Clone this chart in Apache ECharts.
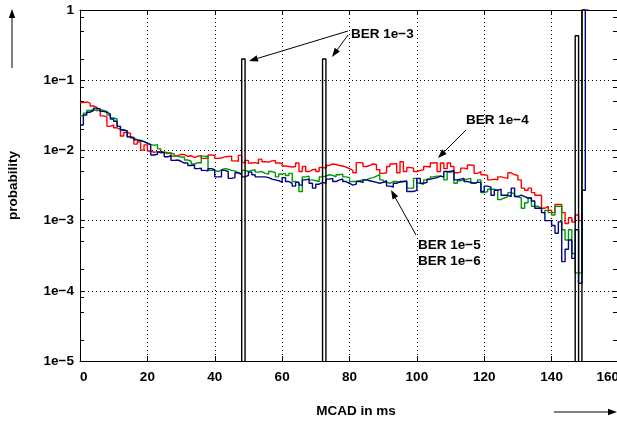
<!DOCTYPE html>
<html>
<head>
<meta charset="utf-8">
<script src="https://cdn.jsdelivr.net/npm/echarts/dist/echarts.min.js"></script>
<style>
html, body { margin: 0; padding: 0; background: #fff; }
#chart { width: 617px; height: 423px; }
</style>
</head>
<body>
<div id="chart"></div>
<script>
// histogram of MCAD, 1 ms bins starting at 0
const binWidth = 1;

// BER 1e-4
const red1e4 = [
  0.048, 0.049, 0.047, 0.043, 0.041, 0.037, 0.031, 0.030, 0.022, 0.023,
  0.021, 0.020, 0.016, 0.018, 0.0175, 0.015, 0.0123, 0.0133, 0.0101, 0.0120,
  0.0098, 0.0094, 0.0096, 0.0092, 0.0094, 0.0090, 0.0093, 0.0083, 0.0084, 0.0088,
  0.0087, 0.0082, 0.0084, 0.0079, 0.0083, 0.0084, 0.0077, 0.0078, 0.0086, 0.0085,
  0.0077, 0.0078, 0.0081, 0.0082, 0.0083, 0.0071, 0.0070, 0.0085, 0.0067, 0.0072,
  0.0066, 0.0067, 0.0065, 0.0075, 0.0069, 0.0068, 0.0071, 0.0072, 0.0066, 0.0065,
  0.0060, 0.0059, 0.0058, 0.0059, 0.0066, 0.0050, 0.0059, 0.0050, 0.0053, 0.0054,
  0.0050, 0.0057, 0.0056, 0.0061, 0.0064, 0.0063, 0.0061, 0.0060, 0.0058, 0.0055,
  0.0052, 0.0048, 0.0067, 0.0066, 0.0059, 0.0061, 0.0064, 0.0063, 0.0053, 0.0047,
  0.0048, 0.0059, 0.0064, 0.0065, 0.0048, 0.0069, 0.0050, 0.0057, 0.0056, 0.0050,
  0.0052, 0.0053, 0.0059, 0.0058, 0.0066, 0.0067, 0.0050, 0.0066, 0.0055, 0.0066,
  0.0059, 0.0048, 0.0049, 0.0056, 0.0054, 0.0062, 0.0061, 0.0047, 0.0050, 0.0045,
  0.0044, 0.0038, 0.0039, 0.0038, 0.0042, 0.0041, 0.0040, 0.0048, 0.0045, 0.0044,
  0.0038, 0.0029, 0.0027, 0.0029, 0.0025, 0.0023, 0.0023, 0.0015, 0.0016, 0.0014,
  0.0013, 0.0017, 0.0017, 0.0013, 0.00091, 0.0011, 0.00095, 0.0012, 0.0010, 1
];

// BER 1e-5
const green1e5 = [
  0.031, 0.034, 0.037, 0.038, 0.037, 0.038, 0.037, 0.036, 0.032, 0.029,
  0.028, 0.022, 0.0195, 0.019, 0.0156, 0.015, 0.0141, 0.014, 0.0133, 0.0128,
  0.0122, 0.0118, 0.0121, 0.0105, 0.0095, 0.0093, 0.0091, 0.0089, 0.0083, 0.0080,
  0.0081, 0.0073, 0.0070, 0.0064, 0.0067, 0.0066, 0.0083, 0.0082, 0.0052, 0.0052,
  0.0050, 0.0053, 0.0055, 0.0054, 0.0052, 0.0051, 0.0048, 0.0047, 0.0052, 0.0050,
  0.0052, 0.0053, 0.0049, 0.0050, 0.0047, 0.0046, 0.0050, 0.0048, 0.0042, 0.0046,
  0.0047, 0.0044, 0.0047, 0.0036, 0.0035, 0.0026, 0.0042, 0.0043, 0.0038, 0.0037,
  0.0036, 0.0042, 0.0043, 0.0045, 0.0044, 0.0042, 0.0045, 0.0046, 0.0042, 0.0041,
  0.0036, 0.0036, 0.0037, 0.0038, 0.0038, 0.0040, 0.0041, 0.0043, 0.0045, 0.0038,
  0.0035, 0.0034, 0.0036, 0.0036, 0.0035, 0.0036, 0.0037, 0.0029, 0.0029, 0.0040,
  0.0034, 0.0033, 0.0038, 0.0039, 0.0042, 0.0043, 0.0043, 0.0042, 0.0038, 0.0049,
  0.0050, 0.0034, 0.0037, 0.0038, 0.0039, 0.0040, 0.0034, 0.0035, 0.0038, 0.0025,
  0.0026, 0.0028, 0.0028, 0.0027, 0.0020, 0.0021, 0.0022, 0.0025, 0.0024, 0.0022,
  0.0021, 0.0015, 0.0018, 0.0021, 0.0016, 0.0016, 0.0015, 0.0013, 0.0014, 0.0013,
  0.0012, 0.0016, 0.0016, 0.00074, 0.00053, 0.00074, 0.00034, 0.00018, 0.00018, 1
];

// BER 1e-6
const blue1e6 = [
  0.023, 0.032, 0.035, 0.037, 0.040, 0.039, 0.036, 0.035, 0.033, 0.028,
  0.026, 0.022, 0.0195, 0.019, 0.0156, 0.0153, 0.0141, 0.0138, 0.0133, 0.0126,
  0.0120, 0.0086, 0.0088, 0.0095, 0.0093, 0.0081, 0.0084, 0.0072, 0.0073, 0.0070,
  0.0066, 0.0066, 0.0061, 0.0062, 0.0055, 0.0056, 0.0052, 0.0051, 0.0055, 0.0053,
  0.0042, 0.0042, 0.0052, 0.0050, 0.0040, 0.0041, 0.0048, 0.0045, 0.0042, 0.0044,
  0.0049, 0.0045, 0.0042, 0.0042, 0.0042, 0.0041, 0.0039, 0.0038, 0.0037, 0.0035,
  0.0041, 0.0036, 0.0034, 0.0031, 0.0035, 0.0032, 0.0038, 0.0039, 0.0034, 0.0029,
  0.0033, 0.0035, 0.0034, 0.0039, 0.0040, 0.0036, 0.0038, 0.0039, 0.0036, 0.0034,
  0.0032, 0.0033, 0.0036, 0.0035, 0.0038, 0.0037, 0.0036, 0.0035, 0.0034, 0.0035,
  0.0037, 0.0031, 0.0030, 0.0034, 0.0036, 0.0036, 0.0036, 0.0026, 0.0026, 0.0027,
  0.0040, 0.0034, 0.0035, 0.0039, 0.0040, 0.0041, 0.0043, 0.0042, 0.0050, 0.0050,
  0.0052, 0.0038, 0.0039, 0.0040, 0.0036, 0.0035, 0.0034, 0.0035, 0.0035, 0.0026,
  0.0031, 0.0030, 0.0023, 0.0027, 0.0028, 0.0023, 0.0023, 0.0022, 0.0029, 0.0022,
  0.0023, 0.0022, 0.0021, 0.0021, 0.0019, 0.0015, 0.0015, 0.0013, 0.0010, 0.0010,
  0.00085, 0.00066, 0.00096, 0.00026, 0.00039, 0.00053, 0.00029, 0.00074, 0.000128, 0.0027,
  1
];

// BER 1e-3: empty everywhere except these bins
const black1e3Bins = [48, 72, 147, 149];
const black1e3Vals = [0.2, 0.2, 0.43, 1];
const emptyBin = 1e-8;   // below the axis, clipped away

// axis ticks
const decades = [-5, -4, -3, -2, -1, 0];
const minorMults = [2, 5, 8];

const FONT = '"Liberation Sans", Arial, Helvetica, sans-serif';

function stepData(vals) {
    const d = vals.map((v, i) => [i * binWidth, v]);
    d.push([vals.length * binWidth, vals[vals.length - 1]]);
    return d;
}

function spikeData(bins, vals) {
    const d = [[0, emptyBin]];
    bins.forEach((b, i) => {
        d.push([b * binWidth, vals[i]]);
        if (i === bins.length - 1) d.push([(b + 1) * binWidth, vals[i]]);
        else d.push([(b + 1) * binWidth, emptyBin]);
    });
    return d;
}

const minorLog = [];
decades.slice(0, -1).forEach(d => minorMults.forEach(m => minorLog.push(d + Math.log10(m))));

const labelStyle = { color: '#000', fontFamily: FONT, fontWeight: 'bold', fontSize: 13.5 };
const blackLine = { color: '#000', width: 1 };
const dotted = { color: '#000', width: 1, type: [1, 3] };

function line(name, data, color) {
    return {
        name: name, type: 'line', step: 'end', data: data,
        symbol: 'none', clip: true, silent: true,
        xAxisIndex: 0, yAxisIndex: 0,
        lineStyle: { color: color, width: 1.4 }
    };
}

function arrow(x1, y1, x2, y2) {
    const head = 9, half = 3.2;
    const dx = x2 - x1, dy = y2 - y1, L = Math.hypot(dx, dy);
    const ux = dx / L, uy = dy / L;
    const bx = x2 - ux * head, by = y2 - uy * head;
    return [
        { type: 'line', silent: true, shape: { x1: x1, y1: y1, x2: bx, y2: by }, style: { stroke: '#000', lineWidth: 1 } },
        { type: 'polygon', silent: true, shape: { points: [[x2, y2], [bx - uy * half, by + ux * half], [bx + uy * half, by - ux * half]] }, style: { fill: '#000' } }
    ];
}

function note(text, x, y) {
    return { type: 'text', silent: true, style: { text: text, x: x, y: y, fill: '#000', font: 'bold 13.5px ' + FONT, align: 'left', verticalAlign: 'middle' } };
}

const option = {
    animation: false,
    backgroundColor: '#fff',
    grid: { left: 80, top: 10, width: 539, height: 351, containLabel: false, outerBoundsMode: 'none' },
    xAxis: [
        {
            type: 'value', position: 'bottom', min: 0, max: 160, interval: 20,
            axisLine: { onZero: false, lineStyle: blackLine },
            axisTick: { inside: true, length: 5, lineStyle: blackLine },
            axisLabel: Object.assign({ margin: 9, alignMinLabel: 'left', alignMaxLabel: 'right' }, labelStyle),
            splitLine: { show: true, lineStyle: dotted },
            name: 'MCAD in ms', nameLocation: 'middle', nameGap: 43,
            nameTextStyle: Object.assign({ padding: [0, 0, 0, 13] }, labelStyle)
        },
        {
            type: 'value', position: 'top', min: 0, max: 160, interval: 20,
            axisLine: { onZero: false, lineStyle: blackLine },
            axisTick: { inside: true, length: 5, lineStyle: blackLine },
            axisLabel: { show: false },
            splitLine: { show: false }
        }
    ],
    yAxis: [
        {
            type: 'log', logBase: 10, min: 1e-5, max: 1, position: 'left',
            axisLine: { onZero: false, lineStyle: blackLine },
            axisTick: { inside: true, length: 5, lineStyle: blackLine },
            axisLabel: Object.assign({
                margin: 6,
                formatter: v => {
                    const e = Math.round(Math.log10(v));
                    return e === 0 ? '1' : '1e\u2212' + (-e);
                }
            }, labelStyle),
            splitLine: { show: true, lineStyle: dotted },
            minorTick: { show: false },
            name: 'probability', nameLocation: 'middle', nameGap: 60, nameRotate: 90,
            nameTextStyle: labelStyle
        },
        {
            // minor ticks of the log axis (in log10 units)
            type: 'value', min: -5, max: 0, position: 'left',
            axisLine: { show: false, onZero: false },
            axisTick: { show: true, inside: true, length: 4, lineStyle: blackLine, customValues: minorLog },
            axisLabel: { show: false },
            splitLine: { show: false }
        },
        {
            type: 'value', min: -5, max: 0, position: 'right',
            axisLine: { show: true, onZero: false, lineStyle: blackLine },
            axisTick: { show: true, inside: true, length: 6, lineStyle: blackLine, customValues: decades.concat(minorLog) },
            axisLabel: { show: false },
            splitLine: { show: false }
        }
    ],
    series: [
        line('BER 1e-4', stepData(red1e4), '#ff0000'),
        line('BER 1e-5', stepData(green1e5), '#009a00'),
        line('BER 1e-6', stepData(blue1e6), '#00008b'),
        line('BER 1e-3', spikeData(black1e3Bins, black1e3Vals), '#000000')
    ],
    graphic: [
        note('BER 1e\u22123', 351, 34),
        note('BER 1e\u22124', 466, 120),
        note('BER 1e\u22125', 418, 245),
        note('BER 1e\u22126', 418, 261)
    ].concat(
        arrow(348, 31, 249, 61),
        arrow(348, 35, 332, 57),
        arrow(466, 130, 438, 158),
        arrow(416, 235, 391, 190),
        arrow(12, 68, 12, 9),
        arrow(554, 412, 617, 412)
    )
};

const chart = echarts.init(document.getElementById('chart'), null, { renderer: 'canvas' });
chart.setOption(option);
</script>
</body>
</html>
